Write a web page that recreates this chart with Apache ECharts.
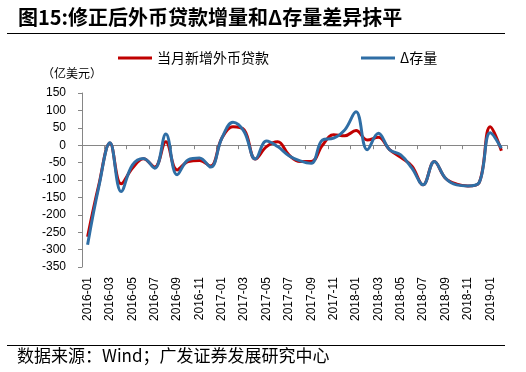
<!DOCTYPE html>
<html>
<head>
<meta charset="utf-8">
<script src="https://cdn.jsdelivr.net/npm/echarts@6/dist/echarts.min.js"></script>
<style>html,body{margin:0;padding:0;background:#fff}#c{width:526px;height:372px}</style>
</head>
<body>
<div id="c"></div>
<script>
var months = ['2016-01','2016-02','2016-03','2016-04','2016-05','2016-06','2016-07','2016-08','2016-09','2016-10','2016-11','2016-12',
  '2017-01','2017-02','2017-03','2017-04','2017-05','2017-06','2017-07','2017-08','2017-09','2017-10','2017-11','2017-12',
  '2018-01','2018-02','2018-03','2018-04','2018-05','2018-06','2018-07','2018-08','2018-09','2018-10','2018-11','2018-12',
  '2019-01','2019-02'];
var newLoans = [-263,-115,6,-111,-66,-39,-63,10,-71,-47,-44,-60,
  20,53,44,-40,-4,10,-28,-47,-47,0,30,27,
  42,15,23,-13,-35,-60,-114,-47,-95,-112,-117,-108,
  53,-16];
var deltaStock = [-286,-120,7,-133,-57,-38,-66,32,-85,-42,-37,-63,
  20,66,39,-40,12,-4,-30,-45,-52,15,20,44,
  96,-13,34,-13,-28,-66,-114,-47,-95,-114,-117,-108,
  36,-9];
var seriesNames = ['当月新增外币贷款','Δ存量'];
var yTicks = {min:-350, max:150, interval:50};

var chart = echarts.init(document.getElementById('c'), null, {renderer:'canvas'});
var cjk = '"Noto Sans CJK SC", sans-serif';
var num = '"Liberation Sans", Arial, sans-serif';
chart.setOption({
  animation: false,
  backgroundColor: '#fff',
  grid: {left: 82, right: 19, top: 93, bottom: 105},
  legend: {
    left: 113, top: 46, itemWidth: 34, itemHeight: 3, itemGap: 92, icon: 'rect',
    textStyle: {fontFamily: cjk, fontSize: 14, color: '#000'},
    data: seriesNames
  },
  xAxis: [{
    type: 'category', data: months, position: 'bottom',
    axisLine: {show: false, onZero: false}, axisTick: {show: false},
    axisLabel: {rotate: 90, interval: 1, margin: 10, fontSize: 12, fontFamily: num, color: '#000'}
  }, {
    type: 'category', data: months, position: 'top',
    axisLine: {show: true, onZero: true, lineStyle: {color: '#868686', width: 1}},
    axisTick: {show: true, inside: true, interval: 1, length: 4, lineStyle: {color: '#868686'}},
    axisLabel: {show: false}
  }],
  yAxis: {
    type: 'value', min: yTicks.min, max: yTicks.max, interval: yTicks.interval,
    axisLine: {show: true, lineStyle: {color: '#868686'}},
    axisTick: {show: true, length: 4, lineStyle: {color: '#868686'}},
    splitLine: {show: false},
    axisLabel: {margin: 16, fontSize: 12, fontFamily: num, color: '#000'}
  },
  series: [{
    name: seriesNames[0], type: 'line', data: newLoans, smooth: 0.4, symbol: 'none',
    lineStyle: {color: '#C00000', width: 3}, itemStyle: {color: '#C00000'}
  }, {
    name: seriesNames[1], type: 'line', data: deltaStock, smooth: 0.4, symbol: 'none',
    lineStyle: {color: '#2F6EA5', width: 3}, itemStyle: {color: '#2F6EA5'}
  }],
  graphic: [
    {type: 'text', left: 18, top: 7, style: {text: '图15:修正后外币贷款增量和Δ存量差异抹平', font: 'bold 20px ' + cjk, fill: '#000'}},
    {type: 'line', shape: {x1: 7, y1: 33.5, x2: 505, y2: 33.5}, style: {stroke: '#000', lineWidth: 1}},
    {type: 'text', left: 42, top: 67, style: {text: '（亿美元）', font: '12px ' + cjk, fill: '#000'}},
    {type: 'line', shape: {x1: 7, y1: 345.5, x2: 505, y2: 345.5}, style: {stroke: '#000', lineWidth: 1}},
    {type: 'text', left: 17, top: 347, style: {text: '数据来源：Wind；广发证券发展研究中心', font: '17px ' + cjk, fill: '#000'}}
  ]
});
</script>
</body>
</html>
